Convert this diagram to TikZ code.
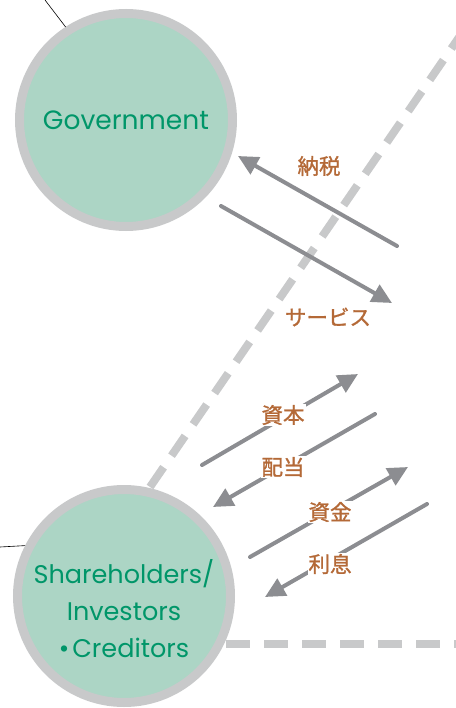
\documentclass[tikz,border=0pt]{standalone}
\usepackage{fontspec}
\setmainfont{Poppins}
\newfontfamily\cjk{Noto Sans CJK JP}[FakeBold=1.2]
\usetikzlibrary{arrows.meta}
\definecolor{ringgray}{RGB}{200,201,202}
\definecolor{fillgreen}{RGB}{172,213,197}
\definecolor{txtgreen}{RGB}{0,150,105}
\definecolor{arrowgray}{RGB}{140,141,145}
\definecolor{lblbrown}{RGB}{180,105,55}
\tikzset{
  bubble/.style={circle, draw=ringgray, line width=9pt, fill=fillgreen, minimum size=213pt, inner sep=0pt},
  flow/.style={draw=arrowgray, line width=4pt, line cap=round, -{Triangle[length=20pt,width=19pt]}},
  sepline/.style={draw=ringgray, line width=8pt, dash pattern=on 24pt off 14pt},
  lbl/.style={font=\cjk\fontsize{21.5}{24}\selectfont, text=lblbrown, inner sep=1pt},
  lblw/.style={lbl, fill=white},
  ctext/.style={text=txtgreen, font=\fontsize{25.5}{37}\selectfont, align=center},
  link/.style={draw=black, line width=0.6pt}
}
\begin{document}
\begin{tikzpicture}[x=1pt,y=-1pt]
\useasboundingbox (0,0) rectangle (455,708);
% separators
\coordinate (d1) at (150,487);
\coordinate (d2) at (462,33);
\coordinate (h1) at (226,644);
\coordinate (h2) at (460,644);
\draw[sepline] (d1) -- (d2);
\draw[sepline] (h1) -- (h2);
% circles
\node[bubble] (gov) at (126,120) {};
\node[bubble] (sh) at (124,596) {};
\node[ctext, font=\fontsize{26.5}{37}\selectfont] (govt) at (126,120) {Government};
\node[ctext] (sht) at (124,609) {Shareholders/\\Investors\\•\hspace{3pt}Creditors};
% outside links
\coordinate (l1) at (45,0);
\coordinate (l2) at (0,547);
\draw[link] (l1) -- (gov.123);
\draw[link] (l2) -- (sh.153);
% arrows
\coordinate (a1t) at (397,246); \coordinate (a1h) at (238,156);
\coordinate (a2t) at (221,206); \coordinate (a2h) at (392,303);
\coordinate (a3t) at (202,465); \coordinate (a3h) at (358,374);
\coordinate (a4t) at (375,414); \coordinate (a4h) at (213,507);
\coordinate (a5t) at (250,557); \coordinate (a5h) at (408,467);
\coordinate (a6t) at (427,504); \coordinate (a6h) at (265,597);
\draw[flow] (a1t) -- (a1h);
\draw[flow] (a2t) -- (a2h);
\draw[flow] (a3t) -- (a3h);
\draw[flow] (a4t) -- (a4h);
\draw[flow] (a5t) -- (a5h);
\draw[flow] (a6t) -- (a6h);
% labels
\node[lbl] (n1) at (319,166) {納税};
\node[lbl] (n2) at (328,317) {サービス};
\node[lblw] (n3) at (283,415) {資本};
\node[lblw] (n4) at (283,467) {配当};
\node[lblw] (n5) at (330,512) {資金};
\node[lblw] (n6) at (330,564) {利息};
\end{tikzpicture}
\end{document}
